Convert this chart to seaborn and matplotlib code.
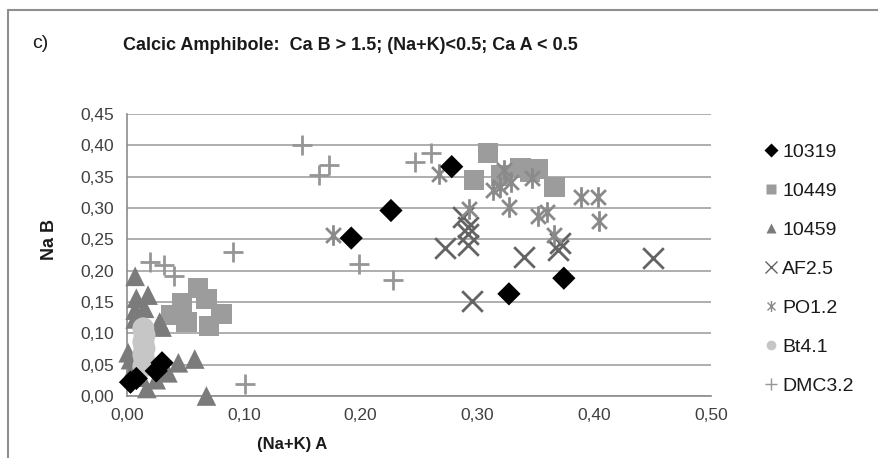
import matplotlib
matplotlib.use("Agg")
import matplotlib.pyplot as plt
import seaborn as sns
import pandas as pd
import numpy as np
from matplotlib.path import Path
from matplotlib.lines import Line2D
from matplotlib.ticker import FuncFormatter

# ---------------- data ----------------
s10319_x = [0.003, 0.008, 0.025, 0.030, 0.192, 0.226, 0.278, 0.327, 0.374]
s10319_y = [0.022, 0.028, 0.040, 0.053, 0.252, 0.296, 0.366, 0.163, 0.188]

s10449_x = [0.038, 0.047, 0.061, 0.051, 0.068, 0.081, 0.070,
            0.309, 0.297, 0.320, 0.337, 0.345, 0.352, 0.366]
s10449_y = [0.129, 0.148, 0.172, 0.118, 0.155, 0.131, 0.112,
            0.388, 0.345, 0.352, 0.364, 0.358, 0.362, 0.334]

s10459_x = [0.007, 0.018, 0.008, 0.007, 0.015, 0.007, 0.030, 0.028, 0.003,
            0.001, 0.044, 0.058, 0.035, 0.017, 0.025, 0.068, 0.005, 0.010]
s10459_y = [0.191, 0.161, 0.156, 0.137, 0.140, 0.123, 0.110, 0.118, 0.058,
            0.069, 0.053, 0.059, 0.037, 0.012, 0.026, 0.000, 0.042, 0.030]

af25_x = [0.272, 0.288, 0.292, 0.292, 0.292, 0.295, 0.340, 0.369, 0.371, 0.450]
af25_y = [0.236, 0.285, 0.270, 0.258, 0.241, 0.152, 0.222, 0.233, 0.244, 0.220]

po12_x = [0.176, 0.267, 0.293, 0.323, 0.319, 0.313, 0.329, 0.327, 0.347,
          0.389, 0.403, 0.404, 0.352, 0.360, 0.366]
po12_y = [0.257, 0.355, 0.299, 0.361, 0.334, 0.329, 0.342, 0.302, 0.348,
          0.318, 0.317, 0.280, 0.288, 0.294, 0.257]

bt41_x = [0.014, 0.015, 0.014, 0.015, 0.014, 0.015, 0.014]
bt41_y = [0.108, 0.097, 0.086, 0.076, 0.066, 0.056, 0.047]

dmc32_x = [0.020, 0.032, 0.040, 0.091, 0.101, 0.150, 0.164, 0.173, 0.199,
           0.228, 0.247, 0.260]
dmc32_y = [0.214, 0.209, 0.191, 0.230, 0.019, 0.400, 0.353, 0.369, 0.211,
           0.185, 0.373, 0.388]

series_names = ["10319", "10449", "10459", "AF2.5", "PO1.2", "Bt4.1", "DMC3.2"]
x_ticks = [0.0, 0.1, 0.2, 0.3, 0.4, 0.5]
y_ticks = [0.0, 0.05, 0.10, 0.15, 0.20, 0.25, 0.30, 0.35, 0.40, 0.45]

frames = []
for name, xs, ys in zip(series_names,
                        [s10319_x, s10449_x, s10459_x, af25_x, po12_x, bt41_x, dmc32_x],
                        [s10319_y, s10449_y, s10459_y, af25_y, po12_y, bt41_y, dmc32_y]):
    frames.append(pd.DataFrame({"x": xs, "y": ys, "series": name}))
df = pd.concat(frames, ignore_index=True)

# ---------------- styling ----------------
sns.set_theme(style="white")
plt.rcParams["font.family"] = ["Liberation Sans", "DejaVu Sans"]

asterisk = Path([(0, -1), (0, 1), (-0.72, -0.72), (0.72, 0.72), (-0.72, 0.72), (0.72, -0.72)],
                [Path.MOVETO, Path.LINETO, Path.MOVETO, Path.LINETO, Path.MOVETO, Path.LINETO])

styles = {
    "10319": dict(marker="D", color="#000000", s=140, kind="filled", z=6),
    "10449": dict(marker="s", color="#9c9c9c", s=215, kind="filled", z=3),
    "10459": dict(marker="^", color="#7b7b7b", s=200, kind="filled", z=3),
    "AF2.5": dict(marker="x", color="#646464", s=220, kind="line", z=4),
    "PO1.2": dict(marker=asterisk, color="#8a8a8a", s=220, kind="path", z=4),
    "Bt4.1": dict(marker="o", color="#c6c6c6", s=250, kind="filled", z=5),
    "DMC3.2": dict(marker="+", color="#969696", s=210, kind="line", z=4),
}

fig = plt.figure(figsize=(8.79, 4.58), dpi=100)
W, H = 879, 458
TOP, BOT, LEFT, RIGHT = 114, 396, 127, 711
ax = fig.add_axes([LEFT / W, 1 - BOT / H, (RIGHT - LEFT) / W, (BOT - TOP) / H])

for name in series_names:
    st = styles[name]
    sub = df[df["series"] == name]
    kw = dict(data=sub, x="x", y="y", ax=ax, marker=st["marker"], s=st["s"],
              color=st["color"], label=name, zorder=st["z"], clip_on=False, legend=False)
    if st["kind"] == "filled":
        kw.update(edgecolor="none", linewidth=0)
    elif st["kind"] == "line":
        kw.update(linewidth=2.0)
    else:
        kw.update(linewidth=2.0, edgecolor=st["color"])
    sns.scatterplot(**kw)

ax.set_xlim(0, 0.5)
ax.set_ylim(0, 0.45)
ax.set_xticks(x_ticks)
ax.set_yticks(y_ticks)
fmt = FuncFormatter(lambda v, p: f"{v:.2f}".replace(".", ","))
ax.xaxis.set_major_formatter(fmt)
ax.yaxis.set_major_formatter(fmt)
ax.tick_params(axis="both", labelsize=12.5, length=4, width=1,
               direction="out", pad=5, labelcolor="#404040", color="#8c8c8c")
ax.yaxis.grid(True, color="#a8a8a8", linewidth=1.3)
ax.xaxis.grid(False)
ax.set_axisbelow(True)
for side in ["top", "right"]:
    ax.spines[side].set_visible(False)
for side in ["left", "bottom"]:
    ax.spines[side].set_color("#8c8c8c")
    ax.spines[side].set_linewidth(1.2)

ax.set_xlabel("")
ax.set_ylabel("")
fig.text(292 / W, 1 - 445 / H, "(Na+K) A", ha="center", va="center",
         fontsize=12, fontweight="bold", color="#1a1a1a")
fig.text(50 / W, 1 - 240 / H, "Na B", ha="center", va="center", rotation=90,
         fontsize=13, fontweight="bold", color="#1a1a1a")

fig.text(350 / W, 1 - 45 / H, "Calcic Amphibole:  Ca B > 1.5; (Na+K)<0.5; Ca A < 0.5",
         ha="center", va="center", fontsize=13, fontweight="bold", color="#1a1a1a")
fig.text(40 / W, 1 - 44 / H, "c)", ha="center", va="center", fontsize=14, color="#1a1a1a")

# legend
handles = []
for name in series_names:
    st = styles[name]
    if st["kind"] == "filled":
        h = Line2D([], [], linestyle="none", marker=st["marker"], markersize=7,
                   markerfacecolor=st["color"], markeredgecolor="none", label=name)
    else:
        h = Line2D([], [], linestyle="none", marker=st["marker"], markersize=8,
                   markeredgecolor=st["color"], markeredgewidth=1.0, label=name)
    handles.append(h)
fig.legend(handles=handles, loc="upper left", bbox_to_anchor=(762 / W, 1 - 143 / H),
           frameon=False, fontsize=14, handletextpad=0.15, labelspacing=1.1,
           handlelength=0.9, borderaxespad=0, borderpad=0, labelcolor="#1a1a1a")

# chart-area border (top and left visible)
fig.add_artist(Line2D([8 / W, 1], [1 - 10 / H, 1 - 10 / H], transform=fig.transFigure,
                      color="#8f8f8f", linewidth=1.5))
fig.add_artist(Line2D([8 / W, 8 / W], [0, 1 - 10 / H], transform=fig.transFigure,
                      color="#8f8f8f", linewidth=1.5))

fig.savefig("out.png", dpi=100)
